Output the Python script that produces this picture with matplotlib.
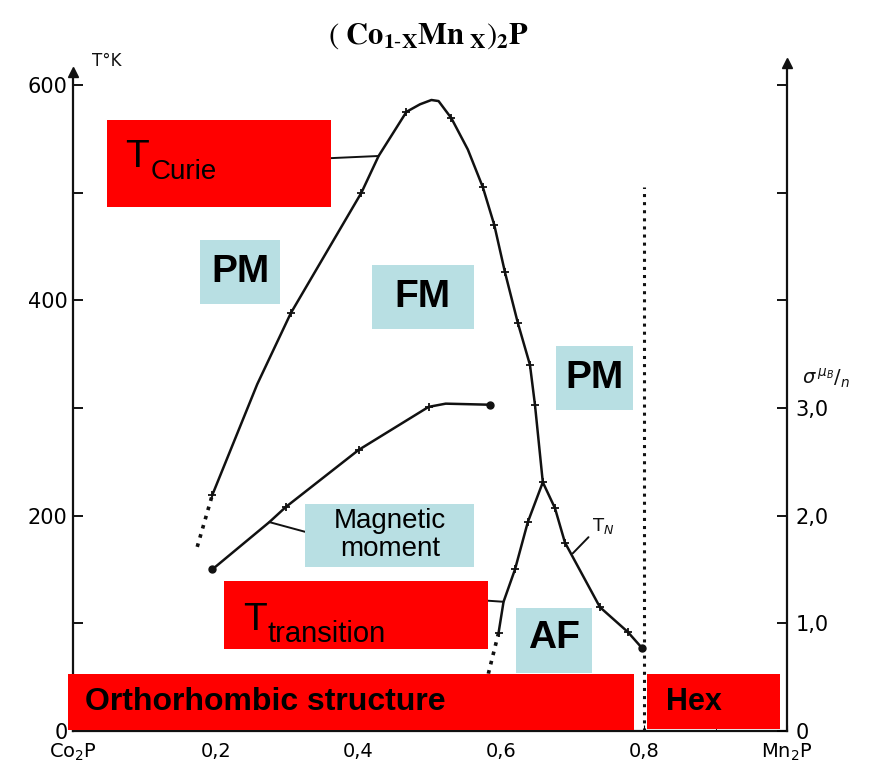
"""Magnetic phase diagram of (Co1-xMnx)2P."""

import matplotlib
matplotlib.use("Agg")
import matplotlib.pyplot as plt
from matplotlib.patches import Rectangle

# Curie temperature boundary (K) vs Mn fraction x
curie_x = [0.174, 0.195, 0.258, 0.305, 0.404, 0.428, 0.448, 0.467, 0.486, 0.502,
           0.512, 0.530, 0.553, 0.574, 0.590, 0.605, 0.623, 0.640, 0.647, 0.658]
curie_t = [171, 219, 322, 388, 500, 534, 555, 575, 582, 586,
           585, 569, 540, 505, 470, 426, 379, 340, 303, 231]
curie_marks = [1, 3, 4, 7, 11, 13, 14, 15, 16, 17, 18, 19]

# Neel temperature boundary
neel_x = [0.658, 0.675, 0.689, 0.738, 0.777, 0.797]
neel_t = [231, 207, 175, 115, 92, 77]

# FM -> AF transition boundary
trans_x = [0.658, 0.637, 0.619, 0.603, 0.596, 0.582, 0.577, 0.572]
trans_t = [231, 194, 150, 120, 91, 54, 29, 0]

# magnetic moment (mu_B per atom), right axis
mom_x = [0.195, 0.275, 0.298, 0.400, 0.498, 0.522, 0.584]
mom_mu = [1.50, 1.94, 2.08, 2.61, 3.01, 3.04, 3.03]

# orthorhombic / hexagonal limit
hex_x = 0.80
hex_top = 505

x_ticks = [0, 0.2, 0.4, 0.6, 0.8, 1.0]
x_labels = ["Co$_2$P", "0,2", "0,4", "0,6", "0,8", "Mn$_2$P"]
t_ticks = [0, 100, 200, 300, 400, 500, 600]
t_labels = ["0", "", "200", "", "400", "", "600"]
mu_ticks = [0, 1, 2, 3, 4, 5, 6]
mu_labels = ["0", "1,0", "2,0", "3,0", "", "", ""]

RED = "#ff0000"
BLUE = "#b8dfe3"
INK = "#111111"
SANS = ["Liberation Sans", "DejaVu Sans"]

fig = plt.figure(figsize=(8.72, 7.69), dpi=100)
ax = fig.add_axes([73 / 872, 38 / 769, 714 / 872, 673 / 769])
ax.set_xlim(0, 1)
ax.set_ylim(0, 625)
ax2 = ax.twinx()
ax2.set_ylim(0, 6.25)

for a in (ax, ax2):
    a.spines["top"].set_visible(False)
    a.patch.set_visible(False)
ax.spines["right"].set_visible(False)
ax2.spines["left"].set_visible(False)
ax2.spines["bottom"].set_visible(False)
for sp in list(ax.spines.values()) + list(ax2.spines.values()):
    sp.set_linewidth(1.6)
    sp.set_color(INK)
ax.spines["left"].set_bounds(0, 612)
ax2.spines["right"].set_bounds(0, 6.2)

ax.set_xticks(x_ticks, x_labels)
ax.set_xticks([0.1, 0.3, 0.5, 0.7, 0.9], minor=True)
ax.tick_params(axis="x", which="major", direction="in", length=4, pad=8, labelsize=14)
ax.tick_params(axis="x", which="minor", direction="in", length=3)
ax.set_yticks(t_ticks, t_labels)
ax.tick_params(axis="y", direction="in", length=7, width=1.3, pad=4, labelsize=15)
ax2.set_yticks(mu_ticks, mu_labels)
ax2.tick_params(axis="y", direction="in", length=7, width=1.3, pad=6, labelsize=15)

# axis arrows
ax.plot([0], [612], marker="^", ms=7, color=INK, clip_on=False)
ax2.plot([1], [6.2], marker="^", ms=7, color=INK, clip_on=False)

# phase boundaries
ax.plot(curie_x[1:], curie_t[1:], "-", color=INK, lw=1.8, marker="+", ms=6, mew=1.3,
        markevery=[i - 1 for i in curie_marks])
ax.plot(curie_x[:2], curie_t[:2], ":", color=INK, lw=2.6)
ax.plot(neel_x, neel_t, "-", color=INK, lw=1.8, marker="+", ms=6, mew=1.3,
        markevery=[1, 2, 3, 4])
ax.plot(neel_x[-1:], neel_t[-1:], "o", color=INK, ms=5)
ax.plot(trans_x[:5], trans_t[:5], "-", color=INK, lw=1.8, marker="+", ms=6, mew=1.3,
        markevery=[1, 2, 4])
ax.plot(trans_x[4:], trans_t[4:], ":", color=INK, lw=2.6)
ax.plot([hex_x, hex_x], [0, hex_top], ":", color=INK, lw=2.2)

ax2.plot(mom_x, mom_mu, "-", color=INK, lw=1.8, marker="+", ms=6, mew=1.3,
         markevery=[2, 3, 4])
ax2.plot([mom_x[0], mom_x[-1]], [mom_mu[0], mom_mu[-1]], "o", color=INK, ms=5, ls="none")


def box(x0, t0, x1, t1, color):
    ax.add_patch(Rectangle((x0, t0), x1 - x0, t1 - t0, fc=color, ec="none",
                           zorder=5, clip_on=False))


def label(x, t, s, size, **kw):
    kw.setdefault("ha", "center")
    kw.setdefault("va", "center")
    ax.text(x, t, s, fontsize=size, family=SANS, color="black", zorder=6,
            clip_on=False, **kw)


line_kw = dict(arrowstyle="-", lw=1.4, color=INK, shrinkA=0, shrinkB=0)

# T Curie
box(0.048, 487, 0.361, 567, RED)
label(0.073, 524, "T", 28, ha="left", va="baseline")
label(0.109, 513, "Curie", 20, ha="left", va="baseline")
ax.annotate("", xy=(curie_x[5], curie_t[5]), xytext=(0.361, 532), arrowprops=line_kw)

# phase region labels
box(0.178, 397, 0.290, 456, BLUE)
label(0.234, 426, "PM", 28, weight="bold")
box(0.419, 373, 0.562, 433, BLUE)
label(0.490, 403, "FM", 28, weight="bold")
box(0.676, 298, 0.784, 358, BLUE)
label(0.730, 328, "PM", 28, weight="bold")
box(0.620, 54, 0.727, 114, BLUE)
label(0.673, 86, "AF", 28, weight="bold")

# magnetic moment
box(0.325, 152, 0.562, 211, BLUE)
label(0.444, 182, "Magnetic\nmoment", 20, linespacing=1.1)
ax.annotate("", xy=(mom_x[1], mom_mu[1] * 100), xytext=(0.325, 185), arrowprops=line_kw)

# T transition
box(0.211, 76, 0.581, 139, RED)
label(0.238, 94, "T", 28, ha="left", va="baseline")
label(0.273, 83, "transition", 21, ha="left", va="baseline")
ax.annotate("", xy=(trans_x[3], trans_t[3]), xytext=(0.581, 121), arrowprops=line_kw)

# T_N
ax.text(0.742, 190, "T$_N$", fontsize=13, ha="center", va="center", color=INK)
ax.annotate("", xy=(0.700, 165), xytext=(0.722, 180), arrowprops=line_kw)

# structures
box(-0.007, 1, 0.786, 53, RED)
label(0.017, 27, "Orthorhombic structure", 23, weight="bold", ha="left")
box(0.804, 2, 0.990, 53, RED)
label(0.870, 27, "Hex", 22, weight="bold")

# titles and axis names
fig.text(0.491, 0.953, r"$(\ \mathbf{Co}_{\mathbf{1\text{-}X}}\mathbf{Mn}_{\mathbf{\ X}})_{\mathbf{2}}\mathbf{P}$",
         fontsize=22, ha="center", va="center", math_fontfamily="stix")
fig.text(0.122, 0.921, "T°K", fontsize=12, ha="center", va="center", color=INK)
fig.text(0.948, 0.508, r"$\sigma\,^{\mu_B}/_{n}$", fontsize=14, ha="center", va="center", color=INK)

fig.savefig("out.png", dpi=100)
